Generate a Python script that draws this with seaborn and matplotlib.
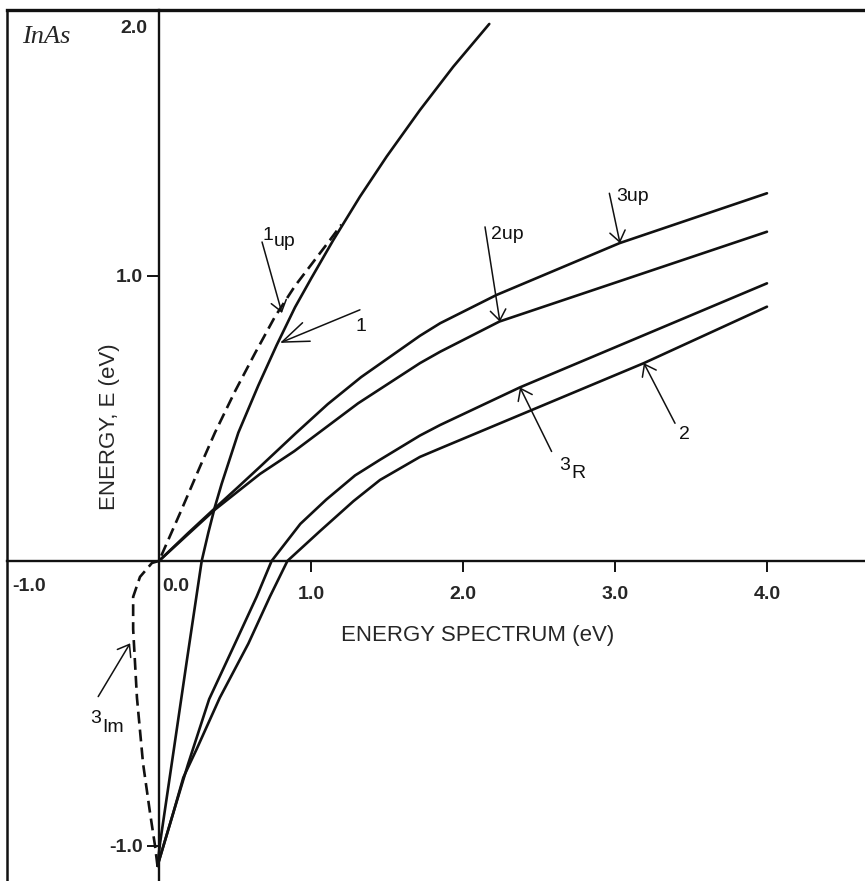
import matplotlib
matplotlib.use("Agg")
import matplotlib.pyplot as plt
import seaborn as sns

# ---- data (x: energy spectrum, y: energy E, both eV) ----
curve1_x = [-0.01, 0.007, 0.098, 0.184, 0.281, 0.325, 0.368, 0.412, 0.522, 0.653, 0.774,
            0.895, 1.0, 1.147, 1.322, 1.498, 1.717, 1.936, 2.173]
curve1_y = [-1.07, -0.99, -0.66, -0.347, 0.0, 0.1, 0.19, 0.27, 0.45, 0.615, 0.757,
            0.89, 0.99, 1.126, 1.278, 1.419, 1.582, 1.734, 1.884]

# dashed curve: 3Im (lower part) continuing into 1up (upper part)
dashed_x = [-0.01, -0.026, -0.06, -0.105, -0.145, -0.17, -0.17, -0.125, -0.046, 0.0,
            0.138, 0.27, 0.368, 0.5, 0.632, 0.763, 0.895, 1.125, 1.20]
dashed_y = [-1.07, -1.0, -0.88, -0.71, -0.48, -0.24, -0.126, -0.056, -0.007, 0.0,
            0.167, 0.331, 0.45, 0.595, 0.729, 0.857, 0.965, 1.126, 1.18]

up3_x = [0.0, 0.19, 0.368, 0.522, 0.664, 0.90, 1.11, 1.33, 1.717, 1.85, 2.22, 3.03, 4.0]
up3_y = [0.0, 0.097, 0.185, 0.26, 0.33, 0.448, 0.55, 0.645, 0.79, 0.834, 0.933, 1.115, 1.29]

up2_x = [0.0, 0.19, 0.368, 0.664, 0.89, 1.04, 1.31, 1.717, 1.85, 2.24, 4.0]
up2_y = [0.0, 0.093, 0.18, 0.305, 0.385, 0.445, 0.553, 0.694, 0.734, 0.84, 1.155]

r3_x = [-0.01, 0.094, 0.19, 0.33, 0.50, 0.643, 0.741, 0.93, 1.10, 1.29, 1.454, 1.717, 1.85, 2.375, 4.0]
r3_y = [-1.07, -0.884, -0.715, -0.485, -0.29, -0.125, 0.0, 0.13, 0.215, 0.30, 0.355, 0.44, 0.477, 0.609, 0.974]

c2_x = [-0.01, 0.094, 0.16, 0.248, 0.40, 0.588, 0.73, 0.845, 1.06, 1.28, 1.454, 1.717, 1.85, 3.19, 4.0]
c2_y = [-1.07, -0.884, -0.76, -0.66, -0.48, -0.29, -0.125, 0.0, 0.105, 0.21, 0.284, 0.365, 0.395, 0.694, 0.892]

x_ticks = [1.0, 2.0, 3.0, 4.0]
x_tick_labels = ["1.0", "2.0", "3.0", "4.0"]
y_ticks = [1.0, -1.0]
y_tick_labels = ["1.0", "-1.0"]

# curve labels: (main text, main pos, lowered suffix, suffix pos, arrow start, arrow tip)
labels = [
    ("1",   (0.678, 1.126), "up", (0.752, 1.105), (0.678, 1.119), (0.809, 0.870)),
    ("1",   (1.290, 0.821), "",   None,           (1.322, 0.881), (0.796, 0.765)),
    ("2up", (2.184, 1.130), "",   None,           (2.145, 1.172), (2.243, 0.839)),
    ("3up", (3.007, 1.263), "",   None,           (2.963, 1.290), (3.033, 1.115)),
    ("3",   (2.632, 0.319), "R",  (2.710, 0.291), (2.583, 0.384), (2.375, 0.609)),
    ("2",   (3.420, 0.442), "",   None,           (3.395, 0.483), (3.190, 0.694)),
    ("3",   (-0.452, -0.568), "Im", (-0.372, -0.600), (-0.400, -0.476), (-0.190, -0.289)),
]

# ---- styling ----
sns.set_style("white")
plt.rcParams["font.family"] = ["Liberation Sans", "DejaVu Sans"]

fig = plt.figure(figsize=(8.65, 8.81), dpi=100)
ax = fig.add_axes([7 / 865, 0, 858 / 865, 871 / 881])
ax.set_xlim(-1.0, 4.645)
ax.set_ylim(-1.123, 1.933)

ink = "#111111"
lw = 1.9
for xs, ys in [(curve1_x, curve1_y), (up3_x, up3_y), (up2_x, up2_y), (r3_x, r3_y), (c2_x, c2_y)]:
    sns.lineplot(x=xs, y=ys, ax=ax, color=ink, lw=lw, sort=False, estimator=None)
sns.lineplot(x=dashed_x, y=dashed_y, ax=ax, color=ink, lw=lw, sort=False, estimator=None,
             linestyle=(0, (4.5, 2.3)))

# axes through the origin, frame on top and left
ax.spines["left"].set_position(("data", 0))
ax.spines["bottom"].set_position(("data", 0))
ax.spines["right"].set_position(("axes", 0))
for s in ["left", "bottom"]:
    ax.spines[s].set_linewidth(1.7)
    ax.spines[s].set_color(ink)
ax.spines["top"].set_linewidth(2.4)
ax.spines["right"].set_linewidth(1.8)
ax.spines["top"].set_color(ink)
ax.spines["right"].set_color(ink)
ax.xaxis.set_ticks_position("bottom")
ax.yaxis.set_ticks_position("left")

ax.set_xticks(x_ticks)
ax.set_xticklabels(x_tick_labels, fontsize=14, fontweight="bold")
ax.set_yticks(y_ticks)
ax.set_yticklabels(y_tick_labels, fontsize=14, fontweight="bold")
ax.tick_params(axis="x", direction="out", length=8, width=1.4, pad=10, color=ink)
ax.tick_params(axis="y", direction="out", length=8.5, width=1.4, pad=3, color=ink)

# extra end/origin labels placed as in the reference
ax.text(0.02, -0.089, "0.0", fontsize=14, fontweight="bold", ha="left", va="center")
ax.text(-0.967, -0.088, "-1.0", fontsize=14, fontweight="bold", ha="left", va="center")
ax.text(-0.079, 1.868, "2.0", fontsize=14, fontweight="bold", ha="right", va="center")

ax.set_xlabel("ENERGY SPECTRUM (eV)", fontsize=16, va="center")
ax.xaxis.set_label_coords(0.549, 0.2824)
ax.set_ylabel("ENERGY, E (eV)", fontsize=16, va="center")
ax.yaxis.set_label_coords(0.12, 0.522)

ax.text(-0.90, 1.817, "InAs", fontsize=19, fontstyle="italic",
        family=["Liberation Serif", "DejaVu Serif"], ha="left", va="baseline")

for main, mpos, suffix, spos, start, tip in labels:
    big = (main == "1" and suffix == "")
    style = "->,head_length=0.95,head_width=0.36" if big else "->,head_length=0.38,head_width=0.28"
    ax.annotate("", xy=tip, xytext=start,
                arrowprops=dict(arrowstyle=style, lw=1.1, color=ink,
                                shrinkA=0, shrinkB=0, mutation_scale=20))
    va = "center" if main in ("1", "2") and suffix == "" else "baseline"
    ax.text(mpos[0], mpos[1], main, fontsize=14, ha="left", va=va, color=ink)
    if suffix:
        ax.text(spos[0], spos[1], suffix, fontsize=14, ha="left", va="baseline", color=ink)

fig.savefig("out.png", dpi=100)
